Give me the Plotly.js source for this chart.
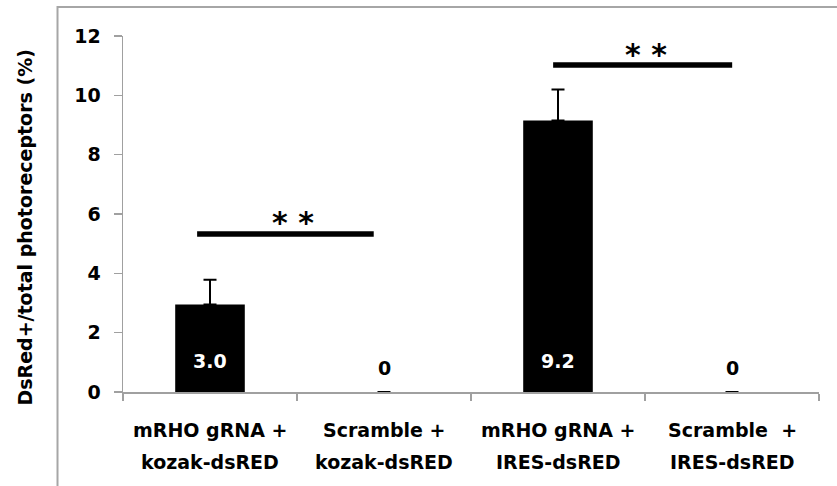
<!DOCTYPE html>
<html>
<head>
<meta charset="utf-8">
<script src="https://cdn.plot.ly/plotly-3.0.1.min.js"></script>
<style>
  html, body { margin: 0; padding: 0; background: #fff; }
  #chart { width: 837px; height: 486px; }
</style>
</head>
<body>
<div id="chart"></div>
<script>
// ---- data ----
const categories = ['mRHO gRNA + kozak-dsRED', 'Scramble + kozak-dsRED', 'mRHO gRNA + IRES-dsRED', 'Scramble + IRES-dsRED'];
const labelLine1 = ['mRHO gRNA +', 'Scramble +', 'mRHO gRNA +', 'Scramble\u00a0\u00a0+'];
const labelLine2 = ['kozak-dsRED', 'kozak-dsRED', 'IRES-dsRED', 'IRES-dsRED'];
const values = [2.95, 0, 9.15, 0];
const errorsPlus = [0.83, 0, 1.05, 0];
const valueLabels = ['3.0', '0', '9.2', '0'];
const yTitle = 'DsRed+/total photoreceptors (%)';
// significance brackets
const sigStart = [-0.074, 1.972];
const sigEnd = [0.941, 3.001];
const sigLevel = [5.33, 11.02];
const sigText = ['* *', '* *'];
const sigTextShift = [8, 3];

const FONT = 'DejaVu Sans';
const AXIS_GREY = '#a0a0a0';

const trace = {
  type: 'bar',
  x: categories,
  y: values,
  width: 0.4,
  marker: { color: '#000000', line: { width: 0 } },
  error_y: {
    type: 'data',
    symmetric: false,
    array: errorsPlus,
    arrayminus: values.map(() => 0),
    color: '#000000',
    thickness: 2,
    width: 6.5
  },
  hoverinfo: 'skip'
};

const annotations = [];
// category labels (two lines each)
categories.forEach((c, i) => {
  annotations.push({
    x: c, xref: 'x', y: 0, yref: 'paper', yanchor: 'middle', xanchor: 'center',
    yshift: -38, showarrow: false, text: labelLine1[i],
    font: { family: FONT, size: 19, weight: 700, color: '#000' }
  });
  annotations.push({
    x: c, xref: 'x', y: 0, yref: 'paper', yanchor: 'middle', xanchor: 'center',
    yshift: -69.5, showarrow: false, text: labelLine2[i],
    font: { family: FONT, size: 19, weight: 700, color: '#000' }
  });
});
// value labels (inside base for positive bars, above base for zero bars)
categories.forEach((c, i) => {
  const inside = values[i] > 0;
  annotations.push({
    x: c, xref: 'x', y: 0, yref: 'y', yanchor: 'middle', xanchor: 'center',
    yshift: inside ? 31 : 24.5, showarrow: false, text: valueLabels[i],
    font: { family: FONT, size: 19, weight: 700, color: inside ? '#ffffff' : '#000000' }
  });
});
// significance stars
sigStart.forEach((s, i) => {
  annotations.push({
    x: (s + sigEnd[i]) / 2, xref: 'x', y: sigLevel[i], yref: 'y',
    yanchor: 'bottom', xanchor: 'center', yshift: -8.5, xshift: sigTextShift[i], showarrow: false,
    text: sigText[i], font: { family: FONT, size: 30, weight: 700, color: '#000' }
  });
});
// y-axis title
annotations.push({
  x: -0.1408, xref: 'paper', y: 0.462, yref: 'paper', xanchor: 'center', yanchor: 'middle',
  textangle: -90, showarrow: false, text: yTitle,
  font: { family: FONT, size: 19, weight: 700, color: '#000' }
});

const shapes = sigStart.map((s, i) => ({
  type: 'line', xref: 'x', yref: 'y',
  x0: s, x1: sigEnd[i], y0: sigLevel[i], y1: sigLevel[i],
  line: { color: '#000000', width: 5.5 }
}));
// chart-area frame (left and top edges visible)
shapes.push({
  type: 'rect', xref: 'paper', yref: 'paper',
  x0: -0.0941, x1: 1.2, y0: -0.5, y1: 1.0815,
  line: { color: '#a6a6a6', width: 2 }, layer: 'below'
});

const layout = {
  width: 837, height: 486,
  margin: { l: 123, r: 18, t: 36, b: 94, pad: 0 },
  paper_bgcolor: '#ffffff', plot_bgcolor: '#ffffff',
  showlegend: false,
  bargap: 0.6,
  font: { family: FONT, size: 19, weight: 700, color: '#000' },
  xaxis: {
    type: 'category', range: [-0.5, 3.5],
    showticklabels: false, tickson: 'boundaries',
    ticks: 'outside', ticklen: 7, tickwidth: 1.5, tickcolor: AXIS_GREY,
    showline: true, linecolor: AXIS_GREY, linewidth: 1.5,
    showgrid: false, zeroline: false, fixedrange: true
  },
  yaxis: {
    range: [0, 12], dtick: 2, tick0: 0,
    ticks: 'outside', ticklen: 8, tickwidth: 1.5, tickcolor: AXIS_GREY,
    ticklabelstandoff: 9,
    tickfont: { family: FONT, size: 19, weight: 700, color: '#000' },
    showline: true, linecolor: AXIS_GREY, linewidth: 1.5,
    showgrid: false, zeroline: false, fixedrange: true
  },
  annotations: annotations,
  shapes: shapes
};

Plotly.newPlot('chart', [trace], layout, { displayModeBar: false, staticPlot: true });
</script>
</body>
</html>
